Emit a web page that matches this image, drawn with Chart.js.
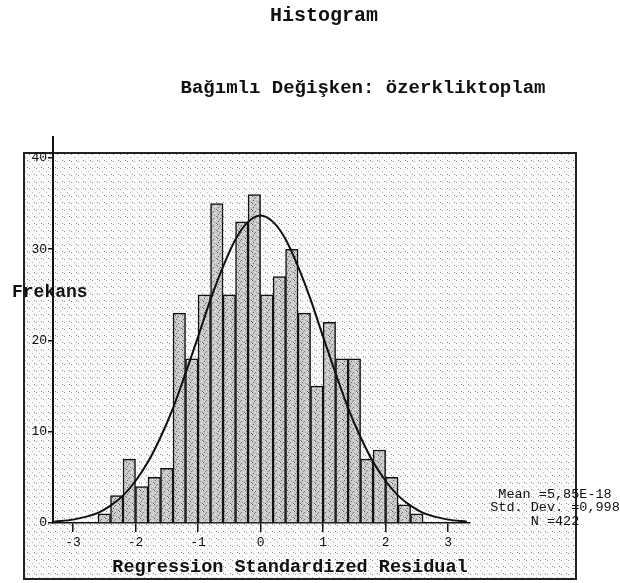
<!DOCTYPE html>
<html>
<head>
<meta charset="utf-8">
<script src="https://cdn.jsdelivr.net/npm/chart.js@4.4.1/dist/chart.umd.min.js"></script>
<style>
  html, body { margin: 0; padding: 0; background: #fff; }
  #wrap { position: relative; width: 620px; height: 583px; }
</style>
</head>
<body>
<div id="wrap"><canvas id="hist" width="620" height="583"></canvas></div>
<script>
// bins of width 0.2, centres
const binCenters = [-2.5, -2.3, -2.1, -1.9, -1.7, -1.5, -1.3, -1.1, -0.9, -0.7, -0.5, -0.3, -0.1,
                    0.1, 0.3, 0.5, 0.7, 0.9, 1.1, 1.3, 1.5, 1.7, 1.9, 2.1, 2.3, 2.5];
const counts = [1, 3, 7, 4, 5, 6, 23, 18, 25, 35, 25, 33, 36,
                25, 27, 30, 23, 15, 22, 18, 18, 7, 8, 5, 2, 1];

// normal curve
const curveX = [-3.3, -3.0, -2.8, -2.6, -2.4, -2.2, -2.0, -1.8, -1.6, -1.4, -1.2, -1.0, -0.8, -0.6, -0.4, -0.2, 0,
                0.2, 0.4, 0.6, 0.8, 1.0, 1.2, 1.4, 1.6, 1.8, 2.0, 2.2, 2.4, 2.6, 2.8, 3.0, 3.3];
const curveY = [0.15, 0.37, 0.67, 1.1, 1.9, 3.0, 4.6, 6.7, 9.4, 12.6, 16.4, 20.4, 24.5, 28.1, 31.1, 33.0, 33.7,
                33.0, 31.1, 28.1, 24.5, 20.4, 16.4, 12.6, 9.4, 6.7, 4.6, 3.0, 1.9, 1.1, 0.67, 0.37, 0.15];

const xTicks = [-3, -2, -1, 0, 1, 2, 3];
const yTicks = [0, 10, 20, 30, 40];

const statLines = ["Mean =5,85E-18", "Std. Dev. =0,998", "N =422"];

const FONT = "'Liberation Mono', 'DejaVu Sans Mono', monospace";

function stipple(base, dots) {
    const c = document.createElement("canvas");
    c.width = 7; c.height = 7;
    const g = c.getContext("2d");
    g.fillStyle = base;
    g.fillRect(0, 0, 7, 7);
    dots.forEach(d => {
        g.fillStyle = d[2];
        g.fillRect(d[0], d[1], 1, 1);
    });
    return c;
}

const ctx = document.getElementById("hist").getContext("2d");
const bgPattern = ctx.createPattern(stipple("#fafafa", [
    [1, 0, "#999"], [4, 3, "#bbb"], [6, 6, "#888"]
]), "repeat");
const barPattern = ctx.createPattern(stipple("#cacaca", [
    [0, 0, "#555"], [3, 1, "#777"], [5, 3, "#eee"], [1, 4, "#666"], [4, 5, "#999"],
    [6, 0, "#fff"], [2, 2, "#888"], [6, 6, "#666"], [3, 6, "#e8e8e8"]
]), "repeat");

const framePlugin = {
    id: "frame",
    beforeDraw(chart) {
        const c = chart.ctx;
        c.save();
        c.fillStyle = bgPattern;
        c.fillRect(24, 153, 552, 426);
        c.strokeStyle = "#222";
        c.lineWidth = 2;
        c.strokeRect(24, 153, 552, 426);
        c.restore();
    },
    afterDraw(chart) {
        const c = chart.ctx;
        c.save();
        c.fillStyle = "#111";
        c.textBaseline = "middle";
        c.textAlign = "center";
        c.font = "bold 20px " + FONT;
        c.fillText("Histogram", 324, 16);
        c.font = "bold 19px " + FONT;
        c.fillText("Bağımlı Değişken: özerkliktoplam", 363, 88);
        c.font = "bold 18.5px " + FONT;
        c.fillText("Regression Standardized Residual", 290, 567);
        c.font = "bold 18px " + FONT;
        c.textAlign = "left";
        c.fillText("Frekans", 12, 292);
        c.font = "13.5px " + FONT;
        c.textAlign = "center";
        statLines.forEach((t, i) => c.fillText(t, 555, 494 + i * 13.5));
        c.restore();
    }
};

new Chart(ctx, {
    type: "bar",
    data: {
        datasets: [{
            type: "line",
            data: curveX.map((x, i) => ({ x: x, y: curveY[i] })),
            borderColor: "#111",
            borderWidth: 2,
            pointRadius: 0,
            cubicInterpolationMode: "monotone",
            fill: false,
            order: 0
        }, {
            type: "bar",
            data: binCenters.map((x, i) => ({ x: x, y: counts[i] })),
            backgroundColor: barPattern,
            borderColor: "#111",
            borderWidth: 1.5,
            barPercentage: 1,
            categoryPercentage: 1,
            order: 1
        }]
    },
    plugins: [framePlugin],
    options: {
        responsive: false,
        animation: false,
        layout: { padding: { left: 0, right: 150, top: 137, bottom: 0 } },
        plugins: {
            legend: { display: false },
            tooltip: { enabled: false }
        },
        scales: {
            x: {
                type: "linear",
                offset: false,
                min: -3.32,
                max: 3.35,
                afterBuildTicks: s => { s.ticks = xTicks.map(v => ({ value: v })); },
                afterFit: s => { s.height = 60; },
                grid: { offset: false, drawOnChartArea: false, drawTicks: true, tickLength: 9, color: "#111", lineWidth: 1.5 },
                border: { color: "#111", width: 1.5 },
                ticks: { color: "#111", padding: 3, maxRotation: 0, autoSkip: false, font: { family: FONT, size: 13 } }
            },
            y: {
                min: 0,
                max: 42.3,
                afterBuildTicks: s => { s.ticks = yTicks.map(v => ({ value: v })); },
                afterFit: s => { s.width = 53; },
                grid: { drawOnChartArea: false, drawTicks: true, tickLength: 5, color: "#111", lineWidth: 1.5 },
                border: { color: "#111", width: 2 },
                ticks: { color: "#111", padding: 1, autoSkip: false, font: { family: FONT, size: 13 } }
            }
        }
    }
});
</script>
</body>
</html>
